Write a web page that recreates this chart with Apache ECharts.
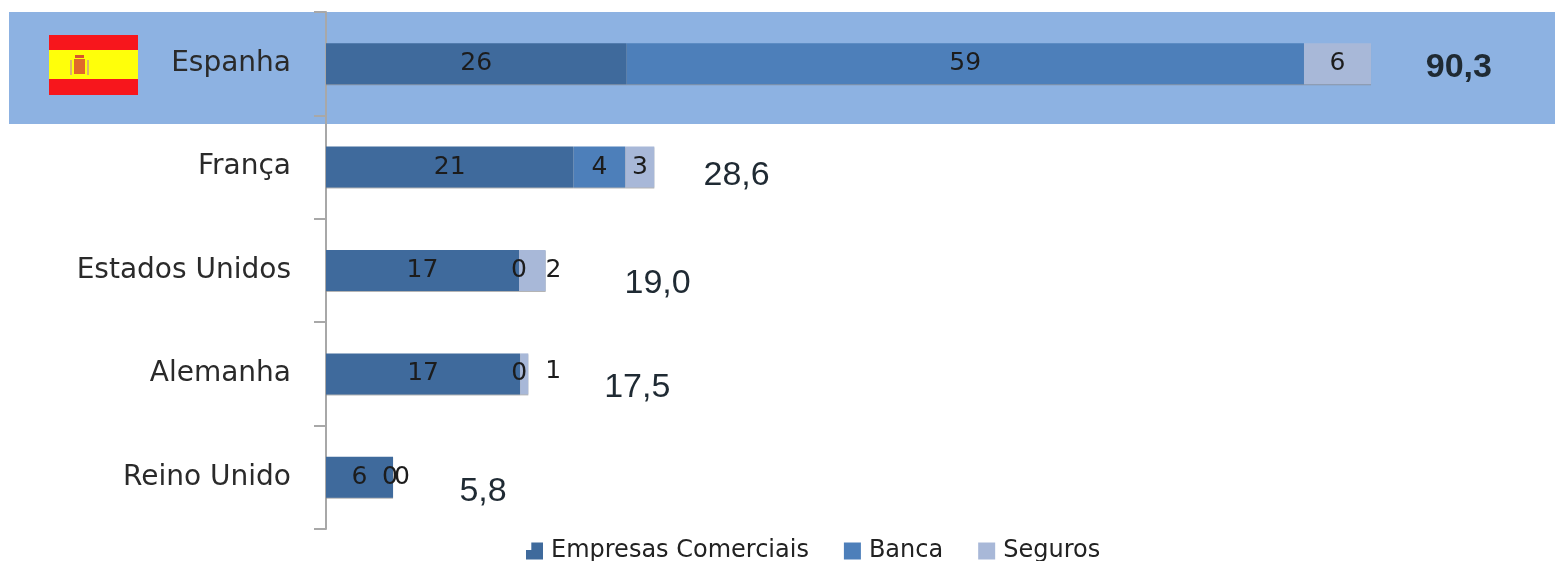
<!DOCTYPE html>
<html>
<head>
<meta charset="utf-8">
<style>
  html, body { margin: 0; padding: 0; background: #fff; }
  #main { width: 1555px; height: 561px; }
</style>
<script src="https://cdn.jsdelivr.net/npm/echarts@6/dist/echarts.min.js"></script>
</head>
<body>
<div id="main"></div>
<script>
// valores
const paises = ['Espanha', 'França', 'Estados Unidos', 'Alemanha', 'Reino Unido'];
const empresas = [26, 21.4, 16.7, 16.8, 5.8];
const banca = [58.6, 4.5, 0, 0, 0];
const seguros = [5.8, 2.5, 2.3, 0.7, 0];
const totais = [90.3, 28.6, 19.0, 17.5, 5.8];

// o que vem escrito nas barras (arredondado na origem)
const rotEmpresas = ['26', '21', '17', '17', '6'];
const rotBanca = ['59', '4', '0', '0', '0'];
const rotSeguros = ['6', '3', '2', '1', '0'];
const rotTotais = ['90,3', '28,6', '19,0', '17,5', '5,8'];

// deslocamentos dos rotulos em px, a origem nao os alinha
const desvioBanca = [[0, 0], [0, 0], [0, 0], [-1, 0], [-3, 0]];
const desvioSeguros = [[0, 0], [0, 0], [21, 0], [29, -2], [9, 0]];
const desvioTotais = [[89, 4], [80, 9], [112, 13], [109, 14], [90, 14]];

const fonte = '"DejaVu Sans"';
const sombra = { shadowColor: 'rgba(130,130,130,0.6)', shadowBlur: 0, shadowOffsetY: 1 };

function itens(valores, rotulos, desvios) {
  return valores.map(function (v, i) {
    return {
      value: v,
      label: {
        formatter: rotulos[i],
        offset: desvios ? desvios[i] : [0, 0]
      }
    };
  });
}

function barra(nome, cor, dados) {
  return {
    name: nome,
    type: 'bar',
    stack: 'total',
    barWidth: 41,
    itemStyle: Object.assign({ color: cor }, sombra),
    label: {
      show: true,
      position: 'inside',
      fontFamily: fonte,
      fontSize: 25,
      color: '#1c1c1c'
    },
    data: dados
  };
}

const chart = echarts.init(document.getElementById('main'));

chart.setOption({
  animation: false,
  grid: { left: 326, top: 12, width: 1156, height: 517 },
  legend: {
    left: 521,
    top: 534,
    itemWidth: 17,
    itemHeight: 17,
    itemGap: 35,
    textStyle: { fontFamily: fonte, fontSize: 24, color: '#222', padding: [0, 0, 0, 3] },
    data: [
      { name: 'Empresas Comerciais', icon: 'path://M0 7L5 7L5 0L16 0L16 16L0 16Z' },
      { name: 'Banca', icon: 'rect' },
      { name: 'Seguros', icon: 'rect' }
    ]
  },
  xAxis: { type: 'value', min: 0, max: 100, show: false },
  yAxis: {
    type: 'category',
    inverse: true,
    data: paises,
    axisLine: { lineStyle: { color: '#a8a8a8', width: 2 } },
    axisTick: { show: true, length: 12, lineStyle: { color: '#a8a8a8', width: 2 } },
    axisLabel: { fontFamily: fonte, fontSize: 28, color: '#2a2a2a', margin: 35 }
  },
  series: [
    barra('Empresas Comerciais', '#3f6a9c', itens(empresas, rotEmpresas)),
    barra('Banca', '#4d7fba', itens(banca, rotBanca, desvioBanca)),
    barra('Seguros', '#a8b8d8', itens(seguros, rotSeguros, desvioSeguros)),
    {
      name: 'Total',
      type: 'scatter',
      symbolSize: 0,
      itemStyle: { opacity: 1 },
      label: {
        show: true,
        position: 'inside',
        fontFamily: '"Liberation Sans"',
        fontSize: 34,
        color: '#1f2a33'
      },
      data: totais.map(function (v, i) {
        return {
          value: [v, paises[i]],
          label: {
            formatter: rotTotais[i],
            offset: desvioTotais[i],
            fontWeight: i === 0 ? 'bold' : 'normal'
          }
        };
      })
    }
  ],
  graphic: [
    // faixa de destaque da Espanha
    { type: 'rect', z: -1, shape: { x: 9, y: 12, width: 1546, height: 112 }, style: { fill: '#8db2e2' } },
    // bandeira
    { type: 'rect', z: 1, shape: { x: 49, y: 35, width: 89, height: 60 }, style: { fill: '#f7161c' } },
    { type: 'rect', z: 2, shape: { x: 49, y: 50, width: 89, height: 29 }, style: { fill: '#ffff0a' } },
    { type: 'rect', z: 3, shape: { x: 74, y: 59, width: 11, height: 15 }, style: { fill: '#e0682a' } },
    { type: 'rect', z: 3, shape: { x: 70, y: 60, width: 2, height: 15 }, style: { fill: '#d9b070' } },
    { type: 'rect', z: 3, shape: { x: 87, y: 60, width: 2, height: 15 }, style: { fill: '#d9b070' } },
    { type: 'rect', z: 3, shape: { x: 75, y: 55, width: 9, height: 3 }, style: { fill: '#d8542c' } }
  ]
});
</script>
</body>
</html>
